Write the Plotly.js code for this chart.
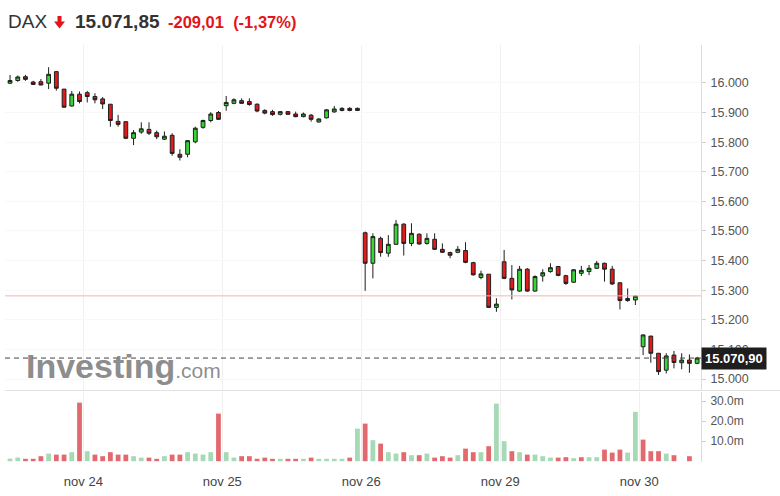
<!DOCTYPE html>
<html><head><meta charset="utf-8">
<script src="https://cdn.plot.ly/plotly-3.0.1.min.js"></script>
<style>html,body{margin:0;padding:0;background:#fff}#chart{width:780px;height:496px}</style>
</head><body><div id="chart"></div>
<script>
// ---- data ----
const symbol = 'DAX';
const quoteLast = 15071.85;
const quoteChange = -209.01;
const quoteChangePct = -1.37;
const prevClose = 15280.86;
const days = ['nov 23','nov 24','nov 25','nov 26','nov 29','nov 30'];
const barsPerDay = [10,18,18,18,18,8];
const openP = [15999,16008,16021,16003,16004,15999,16038,15979,15922,15962,
  15967,15954,15946,15928,15870,15869,15813,15834,15843,15832,15810,15823,15759,15759,15801,15850,15873,15900,
  15923,15931,15940,15937,15928,15907,15903,15894,15903,15895,15886,15891,15868,15882,15902,15907,15914,15907,
  15494,15391,15475,15425,15455,15523,15458,15489,15458,15472,15438,15427,15428,15434,15393,15343,15354,15242,
  15396,15340,15297,15371,15297,15348,15363,15380,15349,15327,15357,15363,15374,15391,15371,15325,15265,15267,
  15109,15145,15087,15030,15081,15055,15064,15053];
const highP = [16027,16025,16027,16007,16013,16053,16040,15979,15973,15971,
  15973,15965,15952,15928,15892,15870,15841,15867,15867,15839,15836,15830,15776,15807,15852,15876,15901,15905,
  15956,15948,15948,15948,15931,15911,15909,15905,15905,15903,15900,15895,15881,15911,15922,15918,15918,15917,
  15498,15492,15481,15486,15537,15526,15526,15492,15492,15492,15458,15430,15449,15462,15396,15366,15354,15273,
  15436,15385,15382,15375,15350,15371,15391,15382,15352,15371,15382,15385,15399,15393,15382,15327,15306,15282,
  15150,15146,15088,15087,15095,15087,15083,15075];
const lowP = [15996,16004,16007,15993,15992,15979,15974,15917,15920,15931,
  15934,15931,15912,15852,15852,15810,15790,15828,15824,15810,15807,15754,15738,15749,15796,15845,15867,15875,
  15906,15928,15929,15923,15901,15894,15889,15890,15892,15884,15884,15869,15866,15880,15900,15904,15904,15905,
  15298,15340,15413,15413,15453,15417,15449,15454,15454,15436,15426,15408,15425,15391,15349,15337,15241,15227,
  15337,15269,15295,15295,15295,15329,15359,15347,15318,15325,15348,15351,15372,15329,15318,15235,15261,15250,
  15081,15055,15014,15019,15036,15033,15021,15050];
const closeP = [16008,16020,16012,15995,15993,16029,15982,15918,15962,15937,
  15954,15943,15929,15873,15860,15813,15832,15845,15830,15818,15820,15762,15749,15805,15847,15873,15895,15877,
  15934,15943,15931,15927,15905,15898,15893,15903,15894,15886,15895,15877,15878,15909,15912,15914,15907,15914,
  15391,15481,15427,15455,15523,15458,15492,15456,15475,15438,15428,15418,15438,15394,15352,15355,15242,15253,
  15340,15301,15371,15297,15346,15359,15376,15350,15323,15369,15367,15374,15391,15371,15321,15265,15272,15280,
  15149,15087,15025,15078,15056,15064,15053,15070.90];
// volume in millions (null = no bar)
const volumeM = [1.3,1.8,1.2,1.2,2.5,3.8,3.3,3.3,4.5,29.3,
  5.0,3.3,2.5,4.5,3.3,3.3,2.5,1.8,1.8,1.2,2.5,3.3,3.3,4.5,3.8,3.3,4.5,23.8,
  4.5,1.8,2.5,2.5,1.2,1.8,1.2,1.2,1.2,1.2,1.2,1.8,1.2,1.2,1.2,1.2,1.8,16.3,
  18.8,10.5,8.8,4.5,3.8,4.5,3.0,3.0,3.8,1.8,2.5,1.8,3.0,6.3,4.5,4.5,7.5,28.8,
  10.0,5.0,4.5,3.3,3.3,2.5,1.8,1.8,2.0,1.5,2.0,2.0,2.0,5.8,4.3,5.8,4.3,24.7,
  10.8,5.0,5.0,3.8,3.0,null,2.5,null];
const priceTicks = [15000,15100,15200,15300,15400,15500,15600,15700,15800,15900,16000];
const volTicks = [10,20,30];
const volTickText = ['10.0m','20.0m','30.0m'];

// ---- derived ----
const xIdx = closeP.map((_, i) => i);
const tickVals = [], tickText = [];
let acc = 0;
barsPerDay.forEach((n, k) => { if (k > 0) { tickVals.push(acc - 0.5); tickText.push(days[k]); } acc += n; });
const volColors = closeP.map((c, i) => {
  const ref = i === 0 ? openP[0] : closeP[i - 1];
  return c >= ref ? '#a6d9b5' : '#e26a6f';
});
const lastClose = closeP[closeP.length - 1];
const fmt = (v, d) => v.toLocaleString('de-DE', {minimumFractionDigits: d, maximumFractionDigits: d});

// ---- geometry helpers (pixels -> paper) ----
const W = 780, H = 496, ML = 5, MR = 79, MT = 45, MB = 34;
const PW = W - ML - MR, PH = H - MT - MB;
const px = X => (X - ML) / PW;
const py = Y => (H - MB - Y) / PH;

const candle = {
  type: 'candlestick', x: xIdx, open: openP, high: highP, low: lowP, close: closeP,
  xaxis: 'x', yaxis: 'y',
  increasing: {fillcolor: '#35d635', line: {color: '#1e1e1e', width: 1}},
  decreasing: {fillcolor: '#e11b1b', line: {color: '#1e1e1e', width: 1}},
  whiskerwidth: 0, hoverinfo: 'skip'
};
const vol = {
  type: 'bar', x: xIdx, y: volumeM, xaxis: 'x', yaxis: 'y2',
  marker: {color: volColors, line: {width: 0}}, hoverinfo: 'skip'
};

const font = 'Liberation Sans, Arial, Helvetica, sans-serif';
const layout = {
  width: W, height: H, margin: {l: ML, r: MR, t: MT, b: MB},
  paper_bgcolor: '#ffffff', plot_bgcolor: '#ffffff',
  separators: ',.', showlegend: false, bargap: 0.38,
  font: {family: font, color: '#555', size: 12},
  xaxis: {
    range: [-0.65, 89.5], anchor: 'y2', tickvals: tickVals, ticktext: tickText,
    showgrid: true, gridcolor: '#f0f0f0', gridwidth: 1, zeroline: false, showline: false,
    ticks: 'outside', ticklen: 7, tickcolor: 'rgba(0,0,0,0)',
    tickfont: {size: 13, color: '#444', family: font},
    rangeslider: {visible: false}, fixedrange: true
  },
  yaxis: {
    domain: [py(390), 1], range: [14963, 16128], side: 'right', anchor: 'x',
    tickvals: priceTicks, tickformat: ',d', showgrid: true, gridcolor: '#f8f8f8',
    zeroline: false, showline: true, linecolor: '#dcdcdc', ticks: 'outside', ticklen: 4,
    tickcolor: '#d0d0d0', ticklabelstandoff: 2,
    tickfont: {size: 12.5, color: '#555', family: font}, fixedrange: true
  },
  yaxis2: {
    domain: [0, py(392)], range: [-0.4, 34.6], side: 'right', anchor: 'x',
    tickvals: volTicks, ticktext: volTickText, showgrid: false, zeroline: false,
    showline: true, linecolor: '#dcdcdc', ticks: 'outside', ticklen: 4, tickcolor: '#d0d0d0',
    ticklabelstandoff: 2, tickfont: {size: 12, color: '#555', family: font}, fixedrange: true
  },
  shapes: [
    {type: 'line', xref: 'paper', yref: 'y', x0: 0, x1: 1, y0: prevClose, y1: prevClose,
     line: {color: '#f5b4b4', width: 1}},
    {type: 'line', xref: 'paper', yref: 'y', x0: 0, x1: 1, y0: lastClose, y1: lastClose,
     line: {color: '#444', width: 1, dash: '5px,4px'}},
    {type: 'line', xref: 'paper', yref: 'paper', x0: 0, x1: px(780), y0: py(390.5), y1: py(390.5),
     line: {color: '#e2e2e2', width: 1}},
    {type: 'path', xref: 'paper', yref: 'paper', fillcolor: '#e3141b', line: {width: 0},
     path: `M ${px(57.5)} ${py(16)} L ${px(61.5)} ${py(16)} L ${px(61.5)} ${py(21.5)} L ${px(65)} ${py(21.5)} L ${px(59.5)} ${py(28.5)} L ${px(54)} ${py(21.5)} L ${px(57.5)} ${py(21.5)} Z`}
  ],
  annotations: [
    {xref: 'paper', yref: 'paper', x: px(6), y: py(22), xanchor: 'left', yanchor: 'middle',
     text: symbol, showarrow: false, font: {family: font, size: 19, color: '#333'}},
    {xref: 'paper', yref: 'paper', x: px(73), y: py(22), xanchor: 'left', yanchor: 'middle',
     text: '<b>' + fmt(quoteLast, 2) + '</b>', showarrow: false, font: {family: font, size: 19, color: '#333'}},
    {xref: 'paper', yref: 'paper', x: px(166), y: py(22), xanchor: 'left', yanchor: 'middle',
     text: '<b>' + fmt(quoteChange, 2) + '  (' + fmt(quoteChangePct, 2) + '%)</b>', showarrow: false,
     font: {family: font, size: 16.5, color: '#e3141b'}},
    {xref: 'paper', yref: 'y', x: 1, y: lastClose, xanchor: 'left', yanchor: 'middle',
     text: '<b>' + fmt(lastClose, 2) + '</b>', showarrow: false, bgcolor: '#1e1e1e', borderpad: 3,
     font: {family: font, size: 13, color: '#ffffff'}},
    {xref: 'paper', yref: 'paper', x: px(24), y: py(366), xanchor: 'left', yanchor: 'middle',
     text: '<b>Investing</b><span style="font-size:21px">.com</span>', showarrow: false,
     font: {family: font, size: 34, color: 'rgba(120,120,120,0.85)'}}
  ]
};

Plotly.newPlot('chart', [vol, candle], layout, {displayModeBar: false, staticPlot: true});
</script></body></html>
